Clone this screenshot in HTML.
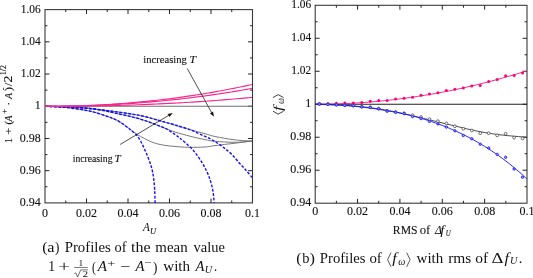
<!DOCTYPE html>
<html><head><meta charset="utf-8"><style>
html,body{margin:0;padding:0;background:#fff;}
body{width:533px;height:278px;overflow:hidden;}
svg{display:block;will-change:transform;filter:blur(0.25px);}
text{font-family:"Liberation Serif", serif;fill:#111;font-kerning:none;stroke:#111;stroke-width:0.12px;}
.tk{font-size:12px;}
.cap{stroke:none;}
.ax{stroke-width:0.1px;}
.ax2{stroke:none;}
</style></head><body>
<svg width="533" height="278" viewBox="0 0 533 278">
<rect x="45.00" y="9.60" width="207.50" height="193.30" fill="none" stroke="#3a3a3a" stroke-width="1.1"/>
<path d="M65.75,202.90v-2.40M65.75,9.60v2.40M86.50,202.90v-4.40M86.50,9.60v4.40M107.25,202.90v-2.40M107.25,9.60v2.40M128.00,202.90v-4.40M128.00,9.60v4.40M148.75,202.90v-2.40M148.75,9.60v2.40M169.50,202.90v-4.40M169.50,9.60v4.40M190.25,202.90v-2.40M190.25,9.60v2.40M211.00,202.90v-4.40M211.00,9.60v4.40M231.75,202.90v-2.40M231.75,9.60v2.40M45.00,186.79h2.40M252.50,186.79h-2.40M45.00,170.68h4.40M252.50,170.68h-4.40M45.00,154.58h2.40M252.50,154.58h-2.40M45.00,138.47h4.40M252.50,138.47h-4.40M45.00,122.36h2.40M252.50,122.36h-2.40M45.00,106.25h4.40M252.50,106.25h-4.40M45.00,90.14h2.40M252.50,90.14h-2.40M45.00,74.03h4.40M252.50,74.03h-4.40M45.00,57.93h2.40M252.50,57.93h-2.40M45.00,41.82h4.40M252.50,41.82h-4.40M45.00,25.71h2.40M252.50,25.71h-2.40" stroke="#222" stroke-width="1" fill="none"/>
<text x="40.70" y="206.00" text-anchor="end" class="tk" textLength="21.00" lengthAdjust="spacingAndGlyphs">0.94</text>
<text x="40.70" y="173.78" text-anchor="end" class="tk" textLength="21.00" lengthAdjust="spacingAndGlyphs">0.96</text>
<text x="40.70" y="141.57" text-anchor="end" class="tk" textLength="21.00" lengthAdjust="spacingAndGlyphs">0.98</text>
<text x="40.70" y="109.35" text-anchor="end" class="tk" textLength="6.00" lengthAdjust="spacingAndGlyphs">1</text>
<text x="40.70" y="77.13" text-anchor="end" class="tk" textLength="19.95" lengthAdjust="spacingAndGlyphs">1.02</text>
<text x="40.70" y="44.92" text-anchor="end" class="tk" textLength="19.95" lengthAdjust="spacingAndGlyphs">1.04</text>
<text x="40.70" y="12.70" text-anchor="end" class="tk" textLength="19.95" lengthAdjust="spacingAndGlyphs">1.06</text>
<text x="45.00" y="216.60" text-anchor="middle" class="tk" textLength="6.00" lengthAdjust="spacingAndGlyphs">0</text>
<text x="86.50" y="216.60" text-anchor="middle" class="tk" textLength="21.00" lengthAdjust="spacingAndGlyphs">0.02</text>
<text x="128.00" y="216.60" text-anchor="middle" class="tk" textLength="21.00" lengthAdjust="spacingAndGlyphs">0.04</text>
<text x="169.50" y="216.60" text-anchor="middle" class="tk" textLength="21.00" lengthAdjust="spacingAndGlyphs">0.06</text>
<text x="211.00" y="216.60" text-anchor="middle" class="tk" textLength="21.00" lengthAdjust="spacingAndGlyphs">0.08</text>
<text x="252.50" y="216.60" text-anchor="middle" class="tk" textLength="15.00" lengthAdjust="spacingAndGlyphs">0.1</text>
<rect x="315.20" y="5.30" width="211.80" height="197.90" fill="none" stroke="#3a3a3a" stroke-width="1.1"/>
<path d="M336.38,203.20v-2.40M336.38,5.30v2.40M357.56,203.20v-4.40M357.56,5.30v4.40M378.74,203.20v-2.40M378.74,5.30v2.40M399.92,203.20v-4.40M399.92,5.30v4.40M421.10,203.20v-2.40M421.10,5.30v2.40M442.28,203.20v-4.40M442.28,5.30v4.40M463.46,203.20v-2.40M463.46,5.30v2.40M484.64,203.20v-4.40M484.64,5.30v4.40M505.82,203.20v-2.40M505.82,5.30v2.40M315.20,186.71h2.40M527.00,186.71h-2.40M315.20,170.22h4.40M527.00,170.22h-4.40M315.20,153.73h2.40M527.00,153.73h-2.40M315.20,137.23h4.40M527.00,137.23h-4.40M315.20,120.74h2.40M527.00,120.74h-2.40M315.20,104.25h4.40M527.00,104.25h-4.40M315.20,87.76h2.40M527.00,87.76h-2.40M315.20,71.27h4.40M527.00,71.27h-4.40M315.20,54.78h2.40M527.00,54.78h-2.40M315.20,38.28h4.40M527.00,38.28h-4.40M315.20,21.79h2.40M527.00,21.79h-2.40" stroke="#222" stroke-width="1" fill="none"/>
<text x="311.20" y="206.30" text-anchor="end" class="tk" textLength="21.00" lengthAdjust="spacingAndGlyphs">0.94</text>
<text x="311.20" y="173.32" text-anchor="end" class="tk" textLength="21.00" lengthAdjust="spacingAndGlyphs">0.96</text>
<text x="311.20" y="140.33" text-anchor="end" class="tk" textLength="21.00" lengthAdjust="spacingAndGlyphs">0.98</text>
<text x="311.20" y="107.35" text-anchor="end" class="tk" textLength="6.00" lengthAdjust="spacingAndGlyphs">1</text>
<text x="311.20" y="74.37" text-anchor="end" class="tk" textLength="19.95" lengthAdjust="spacingAndGlyphs">1.02</text>
<text x="311.20" y="41.38" text-anchor="end" class="tk" textLength="19.95" lengthAdjust="spacingAndGlyphs">1.04</text>
<text x="311.20" y="8.40" text-anchor="end" class="tk" textLength="19.95" lengthAdjust="spacingAndGlyphs">1.06</text>
<text x="315.20" y="215.40" text-anchor="middle" class="tk" textLength="6.00" lengthAdjust="spacingAndGlyphs">0</text>
<text x="357.56" y="215.40" text-anchor="middle" class="tk" textLength="21.00" lengthAdjust="spacingAndGlyphs">0.02</text>
<text x="399.92" y="215.40" text-anchor="middle" class="tk" textLength="21.00" lengthAdjust="spacingAndGlyphs">0.04</text>
<text x="442.28" y="215.40" text-anchor="middle" class="tk" textLength="21.00" lengthAdjust="spacingAndGlyphs">0.06</text>
<text x="484.64" y="215.40" text-anchor="middle" class="tk" textLength="21.00" lengthAdjust="spacingAndGlyphs">0.08</text>
<text x="527.00" y="215.40" text-anchor="middle" class="tk" textLength="15.00" lengthAdjust="spacingAndGlyphs">0.1</text>
<path d="M45.00,106.30 C48.33,106.47 58.33,106.65 65.00,107.30 C71.67,107.95 80.00,109.35 85.00,110.20 C90.00,111.05 91.67,111.50 95.00,112.40 C98.33,113.30 102.17,114.65 105.00,115.60 C107.83,116.55 109.50,117.03 112.00,118.10 C114.50,119.17 117.33,120.42 120.00,122.00 C122.67,123.58 125.25,125.60 128.00,127.60 C130.75,129.60 133.77,132.18 136.50,134.00 C139.23,135.82 141.88,137.17 144.40,138.50 C146.92,139.83 149.00,141.00 151.60,142.00 C154.20,143.00 156.93,143.83 160.00,144.50 C163.07,145.17 166.67,145.60 170.00,146.00 C173.33,146.40 176.67,146.68 180.00,146.90 C183.33,147.12 185.83,147.28 190.00,147.30 C194.17,147.32 200.83,147.28 205.00,147.00 C209.17,146.72 210.00,146.23 215.00,145.60 C220.00,144.97 228.83,143.97 235.00,143.20 C241.17,142.43 249.17,141.37 252.00,141.00" stroke="#6a6a6a" stroke-width="0.9" fill="none"/>
<path d="M45.00,106.30 C48.33,106.40 58.33,106.60 65.00,106.90 C71.67,107.20 80.00,107.72 85.00,108.10 C90.00,108.48 91.67,108.75 95.00,109.20 C98.33,109.65 101.67,110.15 105.00,110.80 C108.33,111.45 110.83,112.17 115.00,113.10 C119.17,114.03 125.00,115.15 130.00,116.40 C135.00,117.65 139.17,118.63 145.00,120.60 C150.83,122.57 160.00,126.30 165.00,128.20 C170.00,130.10 170.83,130.67 175.00,132.00 C179.17,133.33 185.00,134.93 190.00,136.20 C195.00,137.47 200.83,138.75 205.00,139.60 C209.17,140.45 210.00,140.85 215.00,141.30 C220.00,141.75 228.83,142.33 235.00,142.30 C241.17,142.27 249.17,141.30 252.00,141.10" stroke="#6a6a6a" stroke-width="0.9" fill="none"/>
<path d="M45.00,106.30 C48.33,106.38 58.33,106.53 65.00,106.80 C71.67,107.07 80.00,107.53 85.00,107.90 C90.00,108.27 91.67,108.60 95.00,109.00 C98.33,109.40 101.67,109.87 105.00,110.30 C108.33,110.73 110.83,111.02 115.00,111.60 C119.17,112.18 125.00,112.97 130.00,113.80 C135.00,114.63 139.17,115.20 145.00,116.60 C150.83,118.00 159.17,120.53 165.00,122.20 C170.83,123.87 175.83,125.37 180.00,126.60 C184.17,127.83 185.83,128.42 190.00,129.60 C194.17,130.78 200.83,132.55 205.00,133.70 C209.17,134.85 210.00,135.47 215.00,136.50 C220.00,137.53 228.83,139.13 235.00,139.90 C241.17,140.67 249.17,140.90 252.00,141.10" stroke="#6a6a6a" stroke-width="0.9" fill="none"/>
<path d="M45.00,106.30 C48.33,106.48 58.33,106.75 65.00,107.40 C71.67,108.05 80.00,109.37 85.00,110.20 C90.00,111.03 91.67,111.50 95.00,112.40 C98.33,113.30 102.17,114.65 105.00,115.60 C107.83,116.55 109.50,117.03 112.00,118.10 C114.50,119.17 117.33,120.37 120.00,122.00 C122.67,123.63 126.10,126.45 128.00,127.90 C129.90,129.35 129.98,129.52 131.40,130.70 C132.82,131.88 134.93,133.20 136.50,135.00 C138.07,136.80 139.48,139.20 140.80,141.50 C142.12,143.80 143.20,146.15 144.40,148.80 C145.60,151.45 146.92,154.63 148.00,157.40 C149.08,160.17 150.13,162.97 150.90,165.40 C151.67,167.83 152.12,169.57 152.60,172.00 C153.08,174.43 153.45,177.00 153.80,180.00 C154.15,183.00 154.48,186.17 154.70,190.00 C154.92,193.83 155.03,200.83 155.10,203.00" stroke="#1010ff" stroke-width="1.4" stroke-dasharray="2.8 1.6" fill="none"/>
<path d="M45.00,106.30 C48.33,106.40 58.33,106.60 65.00,106.90 C71.67,107.20 80.00,107.72 85.00,108.10 C90.00,108.48 91.67,108.75 95.00,109.20 C98.33,109.65 101.67,110.15 105.00,110.80 C108.33,111.45 110.83,112.17 115.00,113.10 C119.17,114.03 125.00,115.15 130.00,116.40 C135.00,117.65 139.17,118.62 145.00,120.60 C150.83,122.58 160.00,125.98 165.00,128.30 C170.00,130.62 172.50,132.85 175.00,134.50 C177.50,136.15 178.13,136.70 180.00,138.20 C181.87,139.70 183.80,141.25 186.20,143.50 C188.60,145.75 191.68,148.38 194.40,151.70 C197.12,155.02 200.17,159.50 202.50,163.40 C204.83,167.30 206.72,170.82 208.40,175.10 C210.08,179.38 211.63,184.45 212.60,189.10 C213.57,193.75 213.93,200.68 214.20,203.00" stroke="#1010ff" stroke-width="1.4" stroke-dasharray="2.8 1.6" fill="none"/>
<path d="M45.00,106.30 C48.33,106.38 58.33,106.53 65.00,106.80 C71.67,107.07 80.00,107.53 85.00,107.90 C90.00,108.27 91.67,108.60 95.00,109.00 C98.33,109.40 101.67,109.87 105.00,110.30 C108.33,110.73 110.83,111.02 115.00,111.60 C119.17,112.18 125.00,112.97 130.00,113.80 C135.00,114.63 139.17,115.20 145.00,116.60 C150.83,118.00 160.00,120.82 165.00,122.20 C170.00,123.58 172.50,124.18 175.00,124.90 C177.50,125.62 177.50,125.70 180.00,126.50 C182.50,127.30 186.67,128.42 190.00,129.70 C193.33,130.98 196.67,132.70 200.00,134.20 C203.33,135.70 207.00,137.15 210.00,138.70 C213.00,140.25 215.50,141.85 218.00,143.50 C220.50,145.15 222.67,146.75 225.00,148.60 C227.33,150.45 229.58,152.17 232.00,154.60 C234.42,157.03 237.17,160.60 239.50,163.20 C241.83,165.80 243.92,167.83 246.00,170.20 C248.08,172.57 251.00,176.20 252.00,177.40" stroke="#1010ff" stroke-width="1.4" stroke-dasharray="2.8 1.6" fill="none"/>
<path d="M45.00,106.30H252.50" stroke="#707070" stroke-width="1.1"/>
<path d="M45.00,106.30 C45.86,106.30 48.45,106.30 50.17,106.29 C51.90,106.28 53.62,106.27 55.35,106.26 C57.08,106.24 58.80,106.22 60.52,106.20 C62.25,106.18 63.98,106.15 65.70,106.12 C67.42,106.09 69.15,106.05 70.88,106.01 C72.60,105.97 74.33,105.93 76.05,105.88 C77.77,105.83 79.50,105.78 81.22,105.72 C82.95,105.66 84.68,105.60 86.40,105.53 C88.12,105.47 89.85,105.40 91.58,105.32 C93.30,105.25 95.03,105.17 96.75,105.08 C98.47,105.00 100.20,104.91 101.93,104.81 C103.65,104.72 105.38,104.62 107.10,104.52 C108.82,104.42 110.55,104.31 112.28,104.20 C114.00,104.08 115.72,103.97 117.45,103.84 C119.17,103.72 120.90,103.60 122.62,103.47 C124.35,103.33 126.08,103.20 127.80,103.06 C129.53,102.92 131.25,102.77 132.97,102.62 C134.70,102.47 136.43,102.32 138.15,102.16 C139.88,102.00 141.60,101.83 143.32,101.67 C145.05,101.50 146.78,101.32 148.50,101.14 C150.22,100.97 151.95,100.78 153.68,100.59 C155.40,100.40 157.13,100.21 158.85,100.01 C160.58,99.82 162.30,99.61 164.02,99.40 C165.75,99.20 167.47,98.98 169.20,98.77 C170.92,98.55 172.65,98.33 174.38,98.10 C176.10,97.87 177.83,97.64 179.55,97.40 C181.28,97.16 183.00,96.92 184.73,96.67 C186.45,96.43 188.17,96.18 189.90,95.92 C191.62,95.66 193.35,95.40 195.07,95.13 C196.80,94.87 198.53,94.59 200.25,94.32 C201.97,94.04 203.70,93.76 205.43,93.47 C207.15,93.18 208.88,92.89 210.60,92.59 C212.33,92.30 214.05,92.00 215.77,91.69 C217.50,91.38 219.22,91.07 220.95,90.75 C222.67,90.44 224.40,90.11 226.12,89.79 C227.85,89.46 229.58,89.13 231.30,88.79 C233.03,88.45 234.75,88.11 236.48,87.76 C238.20,87.42 239.92,87.06 241.65,86.71 C243.37,86.35 245.10,85.99 246.82,85.62 C248.55,85.25 251.14,84.69 252.00,84.50" stroke="#f5288c" stroke-width="1.15" fill="none"/>
<path d="M45.00,106.30 C45.86,106.30 48.45,106.30 50.17,106.29 C51.90,106.29 53.62,106.28 55.35,106.27 C57.08,106.26 58.80,106.24 60.52,106.22 C62.25,106.20 63.98,106.18 65.70,106.16 C67.42,106.13 69.15,106.10 70.88,106.07 C72.60,106.04 74.33,106.01 76.05,105.97 C77.77,105.93 79.50,105.89 81.22,105.84 C82.95,105.79 84.68,105.74 86.40,105.69 C88.12,105.64 89.85,105.58 91.58,105.52 C93.30,105.46 95.03,105.39 96.75,105.33 C98.47,105.26 100.20,105.19 101.93,105.11 C103.65,105.03 105.38,104.96 107.10,104.87 C108.82,104.79 110.55,104.70 112.28,104.61 C114.00,104.52 115.72,104.42 117.45,104.33 C119.17,104.23 120.90,104.12 122.62,104.02 C124.35,103.91 126.08,103.80 127.80,103.69 C129.53,103.57 131.25,103.45 132.97,103.33 C134.70,103.21 136.43,103.08 138.15,102.95 C139.88,102.82 141.60,102.69 143.32,102.55 C145.05,102.41 146.78,102.27 148.50,102.12 C150.22,101.98 151.95,101.83 153.68,101.67 C155.40,101.52 157.13,101.36 158.85,101.20 C160.58,101.04 162.30,100.87 164.02,100.70 C165.75,100.53 167.47,100.36 169.20,100.18 C170.92,100.00 172.65,99.82 174.38,99.63 C176.10,99.44 177.83,99.25 179.55,99.06 C181.28,98.86 183.00,98.66 184.73,98.46 C186.45,98.26 188.17,98.05 189.90,97.84 C191.62,97.62 193.35,97.41 195.07,97.19 C196.80,96.97 198.53,96.75 200.25,96.52 C201.97,96.29 203.70,96.06 205.43,95.82 C207.15,95.58 208.88,95.34 210.60,95.10 C212.33,94.85 214.05,94.60 215.77,94.35 C217.50,94.10 219.22,93.84 220.95,93.58 C222.67,93.31 224.40,93.05 226.12,92.78 C227.85,92.51 229.58,92.23 231.30,91.95 C233.03,91.67 234.75,91.39 236.48,91.10 C238.20,90.82 239.92,90.52 241.65,90.23 C243.37,89.93 245.10,89.63 246.82,89.33 C248.55,89.02 251.14,88.55 252.00,88.40" stroke="#f5288c" stroke-width="1.15" fill="none"/>
<path d="M45.00,106.30 C45.86,106.30 48.45,106.30 50.17,106.30 C51.90,106.30 53.62,106.29 55.35,106.29 C57.08,106.28 58.80,106.28 60.52,106.27 C62.25,106.26 63.98,106.25 65.70,106.24 C67.42,106.23 69.15,106.22 70.88,106.21 C72.60,106.19 74.33,106.18 76.05,106.16 C77.77,106.15 79.50,106.13 81.22,106.11 C82.95,106.09 84.68,106.07 86.40,106.04 C88.12,106.02 89.85,105.99 91.58,105.97 C93.30,105.94 95.03,105.91 96.75,105.88 C98.47,105.85 100.20,105.81 101.93,105.78 C103.65,105.75 105.38,105.71 107.10,105.67 C108.82,105.63 110.55,105.59 112.28,105.55 C114.00,105.51 115.72,105.46 117.45,105.42 C119.17,105.37 120.90,105.32 122.62,105.27 C124.35,105.22 126.08,105.17 127.80,105.11 C129.53,105.06 131.25,105.00 132.97,104.95 C134.70,104.89 136.43,104.83 138.15,104.76 C139.88,104.70 141.60,104.64 143.32,104.57 C145.05,104.50 146.78,104.43 148.50,104.36 C150.22,104.29 151.95,104.22 153.68,104.14 C155.40,104.07 157.13,103.99 158.85,103.91 C160.58,103.83 162.30,103.75 164.02,103.67 C165.75,103.58 167.47,103.50 169.20,103.41 C170.92,103.32 172.65,103.23 174.38,103.14 C176.10,103.04 177.83,102.95 179.55,102.85 C181.28,102.75 183.00,102.65 184.73,102.55 C186.45,102.45 188.17,102.35 189.90,102.24 C191.62,102.13 193.35,102.02 195.07,101.91 C196.80,101.80 198.53,101.69 200.25,101.57 C201.97,101.46 203.70,101.34 205.43,101.22 C207.15,101.10 208.88,100.98 210.60,100.85 C212.33,100.73 214.05,100.60 215.77,100.47 C217.50,100.34 219.22,100.21 220.95,100.08 C222.67,99.94 224.40,99.80 226.12,99.67 C227.85,99.53 229.58,99.39 231.30,99.24 C233.03,99.10 234.75,98.95 236.48,98.80 C238.20,98.65 239.92,98.50 241.65,98.35 C243.37,98.20 245.10,98.04 246.82,97.88 C248.55,97.72 251.14,97.48 252.00,97.40" stroke="#f5288c" stroke-width="1.15" fill="none"/>
<path d="M187.30,68.60L211.48,112.42" stroke="#222" stroke-width="0.8"/><path d="M213.90,116.80L209.91,113.29L213.06,111.55Z" fill="#111"/>
<path d="M120.10,144.50L168.51,115.47" stroke="#222" stroke-width="0.8"/><path d="M172.80,112.90L169.44,117.02L167.59,113.93Z" fill="#111"/>
<text x="143.38" y="62.90" font-size="10.50" textLength="43.52" lengthAdjust="spacingAndGlyphs">increasing</text>
<text x="189.44" y="62.90" font-size="10.50" textLength="6.47" lengthAdjust="spacingAndGlyphs" font-style="italic">T</text>
<text x="72.70" y="161.70" font-size="10.20" textLength="39.79" lengthAdjust="spacingAndGlyphs">increasing</text>
<text x="114.47" y="161.70" font-size="10.20" textLength="6.17" lengthAdjust="spacingAndGlyphs" font-style="italic">T</text>
<path d="M315.20,104.25H527.00" stroke="#222" stroke-width="1.1"/>
<path d="M315.20,104.25 C315.79,104.25 317.55,104.25 318.73,104.24 C319.91,104.23 321.08,104.23 322.26,104.21 C323.44,104.20 324.61,104.18 325.79,104.17 C326.97,104.15 328.14,104.13 329.32,104.10 C330.50,104.08 331.67,104.05 332.85,104.02 C334.03,103.99 335.20,103.95 336.38,103.92 C337.56,103.88 338.73,103.84 339.91,103.79 C341.09,103.75 342.26,103.70 343.44,103.65 C344.62,103.60 345.79,103.55 346.97,103.50 C348.15,103.44 349.32,103.38 350.50,103.32 C351.68,103.26 352.85,103.19 354.03,103.12 C355.21,103.06 356.38,102.98 357.56,102.91 C358.74,102.84 359.91,102.76 361.09,102.68 C362.27,102.60 363.44,102.51 364.62,102.43 C365.80,102.34 366.97,102.25 368.15,102.16 C369.33,102.06 370.50,101.97 371.68,101.87 C372.86,101.77 374.03,101.67 375.21,101.56 C376.39,101.46 377.56,101.35 378.74,101.23 C379.92,101.12 381.09,101.01 382.27,100.89 C383.45,100.77 384.62,100.65 385.80,100.53 C386.98,100.40 388.15,100.28 389.33,100.15 C390.51,100.02 391.68,99.88 392.86,99.75 C394.04,99.61 395.21,99.47 396.39,99.33 C397.57,99.18 398.74,99.04 399.92,98.89 C401.10,98.74 402.27,98.59 403.45,98.43 C404.63,98.28 405.80,98.12 406.98,97.96 C408.16,97.80 409.33,97.63 410.51,97.47 C411.69,97.30 412.86,97.13 414.04,96.95 C415.22,96.78 416.39,96.60 417.57,96.42 C418.75,96.24 419.92,96.06 421.10,95.88 C422.28,95.69 423.45,95.50 424.63,95.31 C425.81,95.12 426.98,94.92 428.16,94.72 C429.34,94.52 430.51,94.32 431.69,94.12 C432.87,93.91 434.04,93.70 435.22,93.49 C436.40,93.28 437.57,93.07 438.75,92.85 C439.93,92.63 441.10,92.41 442.28,92.19 C443.46,91.97 444.63,91.74 445.81,91.51 C446.99,91.28 448.16,91.05 449.34,90.81 C450.52,90.58 451.69,90.34 452.87,90.10 C454.05,89.85 455.22,89.61 456.40,89.36 C457.58,89.11 458.75,88.86 459.93,88.61 C461.11,88.35 462.28,88.10 463.46,87.84 C464.64,87.57 465.81,87.31 466.99,87.04 C468.17,86.78 469.34,86.51 470.52,86.23 C471.70,85.96 472.87,85.69 474.05,85.41 C475.23,85.13 476.40,84.84 477.58,84.56 C478.76,84.27 479.93,83.99 481.11,83.69 C482.29,83.40 483.46,83.11 484.64,82.81 C485.82,82.51 486.99,82.21 488.17,81.91 C489.35,81.60 490.52,81.30 491.70,80.99 C492.88,80.68 494.05,80.36 495.23,80.05 C496.41,79.73 497.58,79.41 498.76,79.09 C499.94,78.77 501.11,78.44 502.29,78.11 C503.47,77.78 504.64,77.45 505.82,77.11 C507.00,76.78 508.17,76.44 509.35,76.10 C510.53,75.76 511.70,75.42 512.88,75.07 C514.06,74.72 515.23,74.37 516.41,74.02 C517.59,73.66 518.76,73.31 519.94,72.95 C521.12,72.59 522.29,72.22 523.47,71.86 C524.65,71.49 526.41,70.93 527.00,70.75" stroke="#f5288c" stroke-width="1" fill="none"/>
<path d="M315.20,104.25 C319.33,104.42 332.53,104.86 340.00,105.30 C347.47,105.74 353.33,106.18 360.00,106.90 C366.67,107.62 372.50,108.40 380.00,109.60 C387.50,110.80 398.33,112.77 405.00,114.10 C411.67,115.43 415.00,116.42 420.00,117.60 C425.00,118.78 429.17,119.80 435.00,121.20 C440.83,122.60 449.17,124.60 455.00,126.00 C460.83,127.40 465.00,128.50 470.00,129.60 C475.00,130.70 480.00,131.73 485.00,132.60 C490.00,133.47 495.00,134.18 500.00,134.80 C505.00,135.42 510.53,135.90 515.00,136.30 C519.47,136.70 524.83,137.05 526.80,137.20" stroke="#3a3a3a" stroke-width="0.9" fill="none"/>
<path d="M315.20,104.25 C315.79,104.25 317.55,104.25 318.73,104.26 C319.91,104.27 321.08,104.29 322.26,104.31 C323.44,104.32 324.61,104.35 325.79,104.38 C326.97,104.40 328.14,104.44 329.32,104.47 C330.50,104.51 331.67,104.55 332.85,104.60 C334.03,104.65 335.20,104.70 336.38,104.75 C337.56,104.81 338.73,104.87 339.91,104.94 C341.09,105.00 342.26,105.07 343.44,105.15 C344.62,105.22 345.79,105.30 346.97,105.39 C348.15,105.47 349.32,105.56 350.50,105.66 C351.68,105.75 352.85,105.85 354.03,105.96 C355.21,106.06 356.38,106.17 357.56,106.29 C358.74,106.41 359.91,106.53 361.09,106.65 C362.27,106.78 363.44,106.91 364.62,107.05 C365.80,107.18 366.97,107.32 368.15,107.47 C369.33,107.62 370.50,107.77 371.68,107.93 C372.86,108.09 374.03,108.25 375.21,108.42 C376.39,108.59 377.56,108.77 378.74,108.95 C379.92,109.13 381.09,109.32 382.27,109.51 C383.45,109.71 384.62,109.91 385.80,110.11 C386.98,110.32 388.15,110.53 389.33,110.75 C390.51,110.96 391.68,111.19 392.86,111.42 C394.04,111.65 395.21,111.89 396.39,112.13 C397.57,112.38 398.74,112.63 399.92,112.88 C401.10,113.14 402.27,113.41 403.45,113.68 C404.63,113.95 405.80,114.23 406.98,114.51 C408.16,114.80 409.33,115.09 410.51,115.39 C411.69,115.69 412.86,116.00 414.04,116.31 C415.22,116.63 416.39,116.95 417.57,117.28 C418.75,117.61 419.92,117.95 421.10,118.30 C422.28,118.64 423.45,119.00 424.63,119.36 C425.81,119.72 426.98,120.09 428.16,120.47 C429.34,120.85 430.51,121.24 431.69,121.64 C432.87,122.04 434.04,122.44 435.22,122.86 C436.40,123.27 437.57,123.70 438.75,124.13 C439.93,124.56 441.10,125.01 442.28,125.46 C443.46,125.91 444.63,126.37 445.81,126.84 C446.99,127.31 448.16,127.80 449.34,128.29 C450.52,128.78 451.69,129.28 452.87,129.79 C454.05,130.31 455.22,130.83 456.40,131.36 C457.58,131.89 458.75,132.44 459.93,132.99 C461.11,133.55 462.28,134.11 463.46,134.69 C464.64,135.27 465.81,135.86 466.99,136.46 C468.17,137.06 469.34,137.67 470.52,138.30 C471.70,138.92 472.87,139.56 474.05,140.21 C475.23,140.85 476.40,141.52 477.58,142.19 C478.76,142.86 479.93,143.55 481.11,144.25 C482.29,144.95 483.46,145.66 484.64,146.39 C485.82,147.11 486.99,147.85 488.17,148.61 C489.35,149.36 490.52,150.13 491.70,150.91 C492.88,151.69 494.05,152.48 495.23,153.29 C496.41,154.10 497.58,154.93 498.76,155.77 C499.94,156.61 501.11,157.46 502.29,158.33 C503.47,159.20 504.64,160.09 505.82,160.99 C507.00,161.89 508.17,162.81 509.35,163.74 C510.53,164.67 511.70,165.62 512.88,166.59 C514.06,167.55 515.23,168.53 516.41,169.53 C517.59,170.53 518.76,171.55 519.94,172.58 C521.12,173.62 522.29,174.67 523.47,175.74 C524.65,176.81 526.41,178.46 527.00,179.00" stroke="#1010ff" stroke-width="1" stroke-opacity="0.9" fill="none"/>
<circle cx="319.43" cy="104.10" r="1.5" fill="#ff0078"/>
<circle cx="327.90" cy="104.00" r="1.5" fill="#ff0078"/>
<circle cx="336.36" cy="103.30" r="1.5" fill="#ff0078"/>
<circle cx="344.82" cy="103.10" r="1.5" fill="#ff0078"/>
<circle cx="353.29" cy="102.90" r="1.5" fill="#ff0078"/>
<circle cx="361.75" cy="102.50" r="1.5" fill="#ff0078"/>
<circle cx="370.22" cy="101.30" r="1.5" fill="#ff0078"/>
<circle cx="378.68" cy="100.60" r="1.5" fill="#ff0078"/>
<circle cx="387.14" cy="100.50" r="1.5" fill="#ff0078"/>
<circle cx="395.61" cy="99.10" r="1.5" fill="#ff0078"/>
<circle cx="404.07" cy="98.20" r="1.5" fill="#ff0078"/>
<circle cx="412.54" cy="97.30" r="1.5" fill="#ff0078"/>
<circle cx="421.00" cy="95.30" r="1.5" fill="#ff0078"/>
<circle cx="429.46" cy="94.00" r="1.5" fill="#ff0078"/>
<circle cx="437.93" cy="92.70" r="1.5" fill="#ff0078"/>
<circle cx="446.39" cy="90.60" r="1.5" fill="#ff0078"/>
<circle cx="454.86" cy="89.30" r="1.5" fill="#ff0078"/>
<circle cx="463.32" cy="88.00" r="1.5" fill="#ff0078"/>
<circle cx="471.78" cy="85.90" r="1.5" fill="#ff0078"/>
<circle cx="480.25" cy="85.50" r="1.5" fill="#ff0078"/>
<circle cx="488.71" cy="81.40" r="1.5" fill="#ff0078"/>
<circle cx="497.18" cy="79.40" r="1.5" fill="#ff0078"/>
<circle cx="505.64" cy="75.70" r="1.5" fill="#ff0078"/>
<circle cx="514.10" cy="75.60" r="1.5" fill="#ff0078"/>
<circle cx="522.57" cy="72.90" r="1.5" fill="#ff0078"/>
<circle cx="319.43" cy="103.80" r="1.4" fill="white" stroke="#333" stroke-width="0.7"/>
<circle cx="327.90" cy="104.00" r="1.4" fill="white" stroke="#333" stroke-width="0.7"/>
<circle cx="336.36" cy="104.60" r="1.4" fill="white" stroke="#333" stroke-width="0.7"/>
<circle cx="344.82" cy="105.10" r="1.4" fill="white" stroke="#333" stroke-width="0.7"/>
<circle cx="353.29" cy="105.50" r="1.4" fill="white" stroke="#333" stroke-width="0.7"/>
<circle cx="361.75" cy="106.60" r="1.4" fill="white" stroke="#333" stroke-width="0.7"/>
<circle cx="370.22" cy="107.20" r="1.4" fill="white" stroke="#333" stroke-width="0.7"/>
<circle cx="378.68" cy="108.60" r="1.4" fill="white" stroke="#333" stroke-width="0.7"/>
<circle cx="387.14" cy="110.80" r="1.4" fill="white" stroke="#333" stroke-width="0.7"/>
<circle cx="395.61" cy="112.00" r="1.4" fill="white" stroke="#333" stroke-width="0.7"/>
<circle cx="404.07" cy="113.30" r="1.4" fill="white" stroke="#333" stroke-width="0.7"/>
<circle cx="412.54" cy="115.30" r="1.4" fill="white" stroke="#333" stroke-width="0.7"/>
<circle cx="421.00" cy="117.00" r="1.4" fill="white" stroke="#333" stroke-width="0.7"/>
<circle cx="429.46" cy="119.20" r="1.4" fill="white" stroke="#333" stroke-width="0.7"/>
<circle cx="437.93" cy="121.20" r="1.4" fill="white" stroke="#333" stroke-width="0.7"/>
<circle cx="446.39" cy="123.50" r="1.4" fill="white" stroke="#333" stroke-width="0.7"/>
<circle cx="454.86" cy="126.20" r="1.4" fill="white" stroke="#333" stroke-width="0.7"/>
<circle cx="463.32" cy="128.70" r="1.4" fill="white" stroke="#333" stroke-width="0.7"/>
<circle cx="471.78" cy="130.50" r="1.4" fill="white" stroke="#333" stroke-width="0.7"/>
<circle cx="480.25" cy="133.20" r="1.4" fill="white" stroke="#333" stroke-width="0.7"/>
<circle cx="488.71" cy="133.20" r="1.4" fill="white" stroke="#333" stroke-width="0.7"/>
<circle cx="497.18" cy="135.40" r="1.4" fill="white" stroke="#333" stroke-width="0.7"/>
<circle cx="505.64" cy="133.80" r="1.4" fill="white" stroke="#333" stroke-width="0.7"/>
<circle cx="514.10" cy="137.60" r="1.4" fill="white" stroke="#333" stroke-width="0.7"/>
<circle cx="522.57" cy="138.50" r="1.4" fill="white" stroke="#333" stroke-width="0.7"/>
<circle cx="319.43" cy="104.10" r="1.2" fill="#9a9aff" stroke="#1010ff" stroke-width="0.8"/>
<circle cx="327.90" cy="104.30" r="1.2" fill="#9a9aff" stroke="#1010ff" stroke-width="0.8"/>
<circle cx="336.36" cy="104.90" r="1.2" fill="#9a9aff" stroke="#1010ff" stroke-width="0.8"/>
<circle cx="344.82" cy="105.40" r="1.2" fill="#9a9aff" stroke="#1010ff" stroke-width="0.8"/>
<circle cx="353.29" cy="105.80" r="1.2" fill="#9a9aff" stroke="#1010ff" stroke-width="0.8"/>
<circle cx="361.75" cy="106.90" r="1.2" fill="#9a9aff" stroke="#1010ff" stroke-width="0.8"/>
<circle cx="370.22" cy="107.50" r="1.2" fill="#9a9aff" stroke="#1010ff" stroke-width="0.8"/>
<circle cx="378.68" cy="108.90" r="1.2" fill="#9a9aff" stroke="#1010ff" stroke-width="0.8"/>
<circle cx="387.14" cy="111.10" r="1.2" fill="#9a9aff" stroke="#1010ff" stroke-width="0.8"/>
<circle cx="395.61" cy="112.30" r="1.2" fill="#9a9aff" stroke="#1010ff" stroke-width="0.8"/>
<circle cx="404.07" cy="113.60" r="1.2" fill="#9a9aff" stroke="#1010ff" stroke-width="0.8"/>
<circle cx="412.54" cy="116.60" r="1.2" fill="#9a9aff" stroke="#1010ff" stroke-width="0.8"/>
<circle cx="421.00" cy="118.60" r="1.2" fill="#9a9aff" stroke="#1010ff" stroke-width="0.8"/>
<circle cx="429.46" cy="121.40" r="1.2" fill="#9a9aff" stroke="#1010ff" stroke-width="0.8"/>
<circle cx="437.93" cy="123.90" r="1.2" fill="#9a9aff" stroke="#1010ff" stroke-width="0.8"/>
<circle cx="446.39" cy="127.10" r="1.2" fill="#9a9aff" stroke="#1010ff" stroke-width="0.8"/>
<circle cx="454.86" cy="130.80" r="1.2" fill="#9a9aff" stroke="#1010ff" stroke-width="0.8"/>
<circle cx="463.32" cy="135.50" r="1.2" fill="#9a9aff" stroke="#1010ff" stroke-width="0.8"/>
<circle cx="471.78" cy="138.80" r="1.2" fill="#9a9aff" stroke="#1010ff" stroke-width="0.8"/>
<circle cx="480.25" cy="144.20" r="1.2" fill="#9a9aff" stroke="#1010ff" stroke-width="0.8"/>
<circle cx="488.71" cy="148.00" r="1.2" fill="#9a9aff" stroke="#1010ff" stroke-width="0.8"/>
<circle cx="497.18" cy="154.40" r="1.2" fill="#9a9aff" stroke="#1010ff" stroke-width="0.8"/>
<circle cx="505.64" cy="157.30" r="1.2" fill="#9a9aff" stroke="#1010ff" stroke-width="0.8"/>
<circle cx="514.10" cy="169.00" r="1.2" fill="#9a9aff" stroke="#1010ff" stroke-width="0.8"/>
<circle cx="522.57" cy="177.20" r="1.2" fill="#9a9aff" stroke="#1010ff" stroke-width="0.8"/>
<text x="143.01" y="231.00" font-size="11.50" textLength="6.85" lengthAdjust="spacingAndGlyphs" font-style="italic" class="ax">A</text>
<text x="150.02" y="233.80" font-size="8.40" textLength="6.12" lengthAdjust="spacingAndGlyphs" font-style="italic" class="ax">U</text>
<text x="392.86" y="234.20" font-size="12.20" textLength="24.66" lengthAdjust="spacingAndGlyphs" class="ax">RMS</text>
<text x="419.72" y="234.20" font-size="12.20" textLength="10.58" lengthAdjust="spacingAndGlyphs" class="ax">of</text>
<text x="434.99" y="234.20" font-size="12.00" textLength="6.95" lengthAdjust="spacingAndGlyphs" font-style="italic" class="ax">Δ</text>
<text x="440.63" y="234.20" font-size="12.00" textLength="3.67" lengthAdjust="spacingAndGlyphs" font-style="italic" class="ax">f</text>
<text x="445.77" y="236.40" font-size="8.40" textLength="4.96" lengthAdjust="spacingAndGlyphs" font-style="italic" class="ax">U</text>
<g transform="translate(11.70,0) rotate(-90)"><text x="-143.06" y="0.00" font-size="11.00" textLength="4.95" lengthAdjust="spacingAndGlyphs" class="ax">1</text><text x="-134.82" y="0.00" font-size="11.00" textLength="7.13" lengthAdjust="spacingAndGlyphs" class="ax">+</text><text x="-124.88" y="0.00" font-size="11.00" textLength="4.21" lengthAdjust="spacingAndGlyphs" class="ax">(</text><text x="-121.57" y="0.00" font-size="11.00" textLength="6.05" lengthAdjust="spacingAndGlyphs" font-style="italic" class="ax">A</text><text x="-113.89" y="-4.60" font-size="7.50" textLength="4.86" lengthAdjust="spacingAndGlyphs" class="ax">+</text><text x="-105.87" y="0.00" font-size="11.00" textLength="3.95" lengthAdjust="spacingAndGlyphs" class="ax">·</text><text x="-98.95" y="0.00" font-size="11.00" textLength="6.12" lengthAdjust="spacingAndGlyphs" font-style="italic" class="ax">A</text><text x="-90.24" y="-5.50" font-size="7.50" textLength="2.87" lengthAdjust="spacingAndGlyphs" class="ax">-</text><text x="-91.33" y="0.00" font-size="11.00" textLength="4.21" lengthAdjust="spacingAndGlyphs" class="ax">)</text><text x="-86.16" y="0.00" font-size="11.00" textLength="3.51" lengthAdjust="spacingAndGlyphs" class="ax">/</text><text x="-82.40" y="0.00" font-size="12.50" textLength="6.86" lengthAdjust="spacingAndGlyphs" class="ax">2</text><text x="-75.20" y="-5.90" font-size="8.30" textLength="10.25" lengthAdjust="spacingAndGlyphs" class="ax">1/2</text></g>
<path d="M273,97.6 L278.1,94.6 L283.6,97.6 M273,111.2 L278.1,114.2 L283.6,111.2" stroke="#111" stroke-width="0.8" fill="none"/>
<g transform="translate(281.60,0) rotate(-90)"><text x="-111.00" y="0.00" font-size="12.10" textLength="4.95" lengthAdjust="spacingAndGlyphs" font-style="italic" class="ax2">f</text><text x="-103.86" y="2.00" font-size="9.80" textLength="5.61" lengthAdjust="spacingAndGlyphs" font-style="italic" class="ax2">ω</text></g>
<text x="64.67" y="251.90" font-size="14.20" textLength="46.06" lengthAdjust="spacingAndGlyphs" class="cap">Profiles</text>
<text x="114.45" y="251.90" font-size="14.20" textLength="12.05" lengthAdjust="spacingAndGlyphs" class="cap">of</text>
<text x="131.14" y="251.90" font-size="14.20" textLength="19.61" lengthAdjust="spacingAndGlyphs" class="cap">the</text>
<text x="155.39" y="251.90" font-size="14.20" textLength="32.34" lengthAdjust="spacingAndGlyphs" class="cap">mean</text>
<text x="193.50" y="251.90" font-size="14.20" textLength="31.30" lengthAdjust="spacingAndGlyphs" class="cap">value</text>
<text x="42.30" y="251.90" font-size="15.00" textLength="5.32" lengthAdjust="spacingAndGlyphs" class="cap">(</text>
<text x="47.33" y="251.90" font-size="14.20" textLength="7.19" lengthAdjust="spacingAndGlyphs" class="cap">a</text>
<text x="54.97" y="251.90" font-size="15.00" textLength="4.41" lengthAdjust="spacingAndGlyphs" class="cap">)</text>
<text x="296.30" y="262.70" font-size="15.00" textLength="5.32" lengthAdjust="spacingAndGlyphs" class="cap">(</text>
<text x="302.30" y="262.70" font-size="14.20" textLength="7.25" lengthAdjust="spacingAndGlyphs" class="cap">b</text>
<text x="309.57" y="262.70" font-size="15.00" textLength="5.45" lengthAdjust="spacingAndGlyphs" class="cap">)</text>
<text x="48.30" y="270.80" font-size="14.20" textLength="6.82" lengthAdjust="spacingAndGlyphs" class="cap">1</text>
<text x="58.26" y="270.80" font-size="14.20" textLength="11.76" lengthAdjust="spacingAndGlyphs" class="cap">+</text>
<text x="78.58" y="265.80" font-size="8.80" textLength="4.69" lengthAdjust="spacingAndGlyphs" class="cap">1</text>
<path d="M74.2,267.5H87.8" stroke="#111" stroke-width="0.55"/>
<path d="M74.3,273.6 L75.6,272.8 L77.7,277.0 L80.7,269.9 H87.9" stroke="#111" stroke-width="0.6" fill="none"/>
<text x="82.61" y="276.60" font-size="8.80" textLength="5.61" lengthAdjust="spacingAndGlyphs" class="cap">2</text>
<text x="91.99" y="272.20" font-size="15.34" textLength="3.89" lengthAdjust="spacingAndGlyphs" class="cap">(</text>
<text x="97.83" y="270.80" font-size="14.20" textLength="9.22" lengthAdjust="spacingAndGlyphs" font-style="italic" class="cap">A</text>
<text x="107.29" y="266.60" font-size="10.00" textLength="8.00" lengthAdjust="spacingAndGlyphs" class="cap">+</text>
<text x="120.01" y="270.80" font-size="14.20" textLength="10.06" lengthAdjust="spacingAndGlyphs" class="cap">−</text>
<text x="135.51" y="270.80" font-size="14.20" textLength="9.04" lengthAdjust="spacingAndGlyphs" font-style="italic" class="cap">A</text>
<text x="144.56" y="265.90" font-size="10.00" textLength="7.27" lengthAdjust="spacingAndGlyphs" class="cap">−</text>
<text x="152.97" y="272.20" font-size="15.34" textLength="4.41" lengthAdjust="spacingAndGlyphs" class="cap">)</text>
<text x="163.29" y="270.80" font-size="14.20" textLength="26.81" lengthAdjust="spacingAndGlyphs" class="cap">with</text>
<text x="195.60" y="270.80" font-size="14.20" textLength="8.95" lengthAdjust="spacingAndGlyphs" font-style="italic" class="cap">A</text>
<text x="204.66" y="272.80" font-size="10.00" textLength="7.38" lengthAdjust="spacingAndGlyphs" font-style="italic" class="cap">U</text>
<text x="214.06" y="270.80" font-size="14.20" textLength="3.17" lengthAdjust="spacingAndGlyphs" class="cap">.</text>
<text x="319.88" y="262.60" font-size="14.20" textLength="45.55" lengthAdjust="spacingAndGlyphs" class="cap">Profiles</text>
<text x="369.43" y="262.60" font-size="14.20" textLength="12.37" lengthAdjust="spacingAndGlyphs" class="cap">of</text>
<text x="416.59" y="262.60" font-size="14.20" textLength="26.61" lengthAdjust="spacingAndGlyphs" class="cap">with</text>
<text x="448.19" y="262.60" font-size="14.20" textLength="23.17" lengthAdjust="spacingAndGlyphs" class="cap">rms</text>
<text x="475.21" y="262.60" font-size="14.20" textLength="12.89" lengthAdjust="spacingAndGlyphs" class="cap">of</text>
<path d="M391.0,252.6 L387.6,259.7 L391.0,266.8 M406.7,252.6 L410.1,259.7 L406.7,266.8" stroke="#111" stroke-width="0.7" fill="none"/>
<text x="392.35" y="262.60" font-size="14.20" textLength="4.54" lengthAdjust="spacingAndGlyphs" font-style="italic" class="cap">f</text>
<text x="398.27" y="264.80" font-size="10.00" textLength="7.07" lengthAdjust="spacingAndGlyphs" font-style="italic" class="cap">ω</text>
<text x="491.40" y="262.60" font-size="14.20" textLength="11.90" lengthAdjust="spacingAndGlyphs" class="cap">Δ</text>
<text x="504.40" y="262.60" font-size="14.20" textLength="4.54" lengthAdjust="spacingAndGlyphs" font-style="italic" class="cap">f</text>
<text x="510.06" y="264.40" font-size="10.00" textLength="7.38" lengthAdjust="spacingAndGlyphs" font-style="italic" class="cap">U</text>
<text x="518.85" y="262.60" font-size="14.20" textLength="3.60" lengthAdjust="spacingAndGlyphs" class="cap">.</text>
</svg>
</body></html>
